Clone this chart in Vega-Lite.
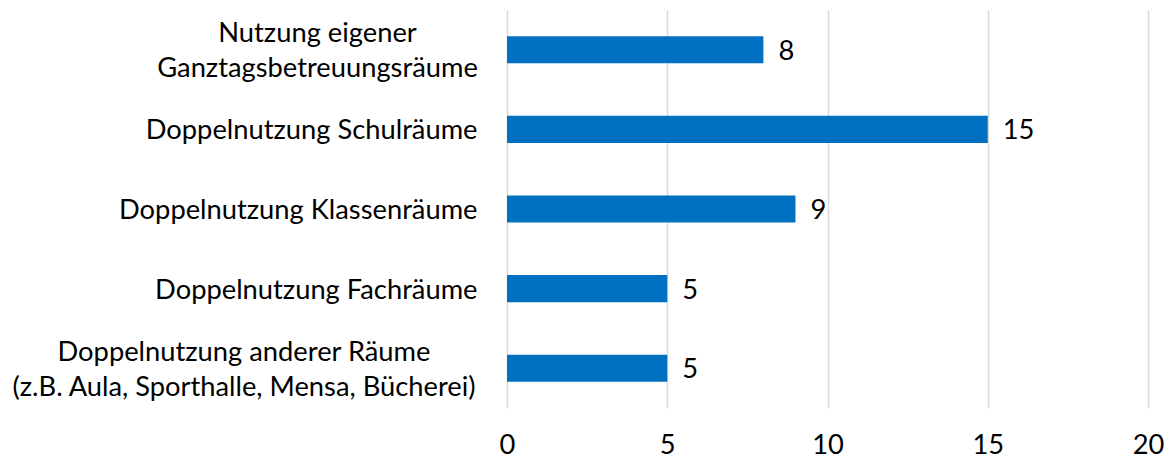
{
  "$schema": "https://vega.github.io/schema/vega-lite/v6.json",
  "autosize": "none",
  "padding": {"left": 507, "top": 10, "right": 22, "bottom": 51},
  "width": 641,
  "height": 398,
  "background": "white",
  "config": {"view": {"stroke": null}, "font": "Lato"},
  "data": {"values": [
    {"kategorie": "Nutzung eigener|Ganztagsbetreuungsräume", "anzahl": 8},
    {"kategorie": "Doppelnutzung Schulräume", "anzahl": 15},
    {"kategorie": "Doppelnutzung Klassenräume", "anzahl": 9},
    {"kategorie": "Doppelnutzung Fachräume", "anzahl": 5},
    {"kategorie": "Doppelnutzung anderer Räume|(z.B. Aula, Sporthalle, Mensa, Bücherei)", "anzahl": 5}
  ]},
  "encoding": {
    "y": {"field": "kategorie", "type": "nominal", "sort": null, "title": null,
      "scale": {"paddingInner": 0.66, "paddingOuter": 0.33},
      "axis": {"domain": false, "ticks": false, "labelFont": "Lato", "labelFontSize": 27.3, "labelColor": "#000000",
        "labelExpr": "split(datum.label, '|')", "labelLineHeight": 35, "labelLimit": 600,
        "labelAlign": {"condition": {"test": "indexof(datum.value, '|') >= 0", "value": "center"}, "value": "right"},
        "labelPadding": {"condition": [
          {"test": "indexof(datum.value, 'Ganztags') >= 0", "value": 190},
          {"test": "indexof(datum.value, 'Aula') >= 0", "value": 263.5}
        ], "value": 30},
        "labelOffset": {"condition": {"test": "indexof(datum.value, '|') >= 0", "value": -15.5}, "value": 2}}},
    "x": {"field": "anzahl", "type": "quantitative", "title": null,
      "scale": {"domain": [0, 20]},
      "axis": {"values": [0, 5, 10, 15, 20], "domain": false, "ticks": false, "gridColor": "#d9d9d9", "gridWidth": 1.5,
        "labelFlush": false, "labelFont": "Lato", "labelFontSize": 27.3, "labelColor": "#000000", "labelPadding": 23}}
  },
  "layer": [
    {"mark": {"type": "bar", "color": "#0070c0"}},
    {"mark": {"type": "text", "align": "left", "dx": 15, "dy": 2, "fontSize": 27.3, "font": "Lato", "color": "#000000"},
     "encoding": {"text": {"field": "anzahl", "type": "quantitative"}}}
  ]
}
